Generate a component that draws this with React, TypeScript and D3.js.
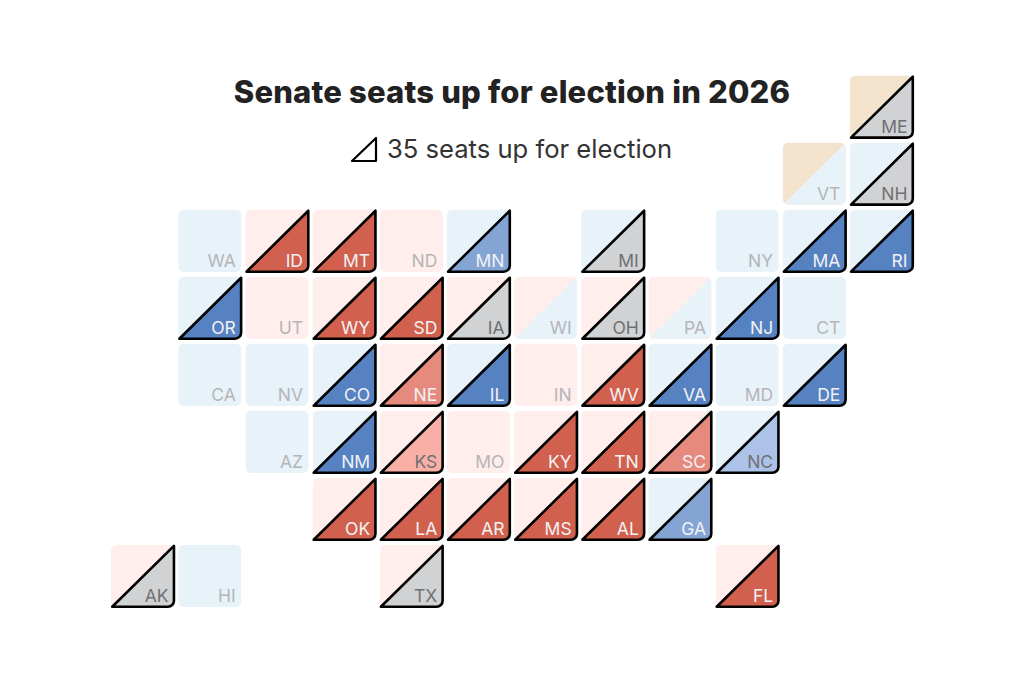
import * as d3 from "d3";

// tile map, one string per row, ".." = empty tile
const tileRows = [
  ".. .. .. .. .. .. .. .. .. .. .. ME",
  ".. .. .. .. .. .. .. .. .. .. VT NH",
  ".. WA ID MT ND MN .. MI .. NY MA RI",
  ".. OR UT WY SD IA WI OH PA NJ CT ..",
  ".. CA NV CO NE IL IN WV VA MD DE ..",
  ".. .. AZ NM KS MO KY TN SC NC .. ..",
  ".. .. .. OK LA AR MS AL GA .. .. ..",
  "AK HI .. .. TX .. .. .. .. FL .. ..",
];

// party of the seat not up (upper left triangle)
const demUpper = ["WA","MN","MI","NY","MA","RI","OR","NJ","CT","CA","NV","CO","IL","VA","MD","DE","AZ","NM","NC","GA","HI","NH"];
const indUpper = ["ME","VT"];
// everything else is rep

// lower right triangle when no race in 2026
const demLower = ["WA","NY","CT","CA","NV","MD","AZ","HI","VT","WI","PA"];
const repLower = ["UT","ND","IN","MO"];

// race ratings (lower right triangle, outlined)
const solidD = ["MA","RI","OR","NJ","CO","IL","VA","DE","NM"];
const leanD = ["MN","GA"];
const likelyD = ["NC"];
const tossup = ["ME","NH","MI","IA","OH","AK","TX"];
const likelyR = ["KS"];
const leanR = ["NE","SC"];
const solidR = ["ID","MT","WY","SD","WV","KY","TN","OK","LA","AR","MS","AL","FL"];

const title = "Senate seats up for election in 2026";
const subtitle = "35 seats up for election";

const ratings: [string, string[]][] = [
  ["solidD", solidD], ["leanD", leanD], ["likelyD", likelyD], ["tossup", tossup],
  ["likelyR", likelyR], ["leanR", leanR], ["solidR", solidR],
];
const ratingOf = (st: string) => ratings.find((r) => r[1].includes(st))?.[0];
const upperOf = (st: string) => demUpper.includes(st) ? "dem" : indUpper.includes(st) ? "ind" : "rep";
const lowerOf = (st: string) => ratingOf(st) ?? (demLower.includes(st) ? "dem" : "rep");

const color = d3.scaleOrdinal<string, string>()
  .domain(["dem","rep","ind","solidD","leanD","likelyD","tossup","likelyR","leanR","solidR"])
  .range(["#e8f2f9","#ffeeeb","#f3e2cc","#5682c2","#84a4d4","#adc2e8","#d1d2d4","#f8b0a6","#e58a7d","#d2604f"]);

const labelColor = (st: string) => {
  const r = ratingOf(st);
  if (!r) return "#b4b5b9";
  if (r === "tossup" || r === "likelyR" || r === "likelyD") return "#6f7073";
  return "#f2f2f4";
};

const x = d3.scaleBand<number>().domain(d3.range(12)).range([109, 915]).paddingInner(0.06).paddingOuter(0.03);
const y = d3.scaleBand<number>().domain(d3.range(8)).range([73.5, 609]).paddingInner(0.07).paddingOuter(0.03);

const RADIUS = 6;

// triangle with the corner on the lower right, rounded there, tips pulled in a bit
const lowerPath = (s: number, h: number) => {
  const p = d3.path();
  p.moveTo(1.2, h - 0.2);
  p.lineTo(s - 0.2, 1.2);
  p.lineTo(s - 0.2, h - RADIUS);
  p.arcTo(s - 0.2, h - 0.2, s - RADIUS, h - 0.2, RADIUS);
  p.closePath();
  return p.toString();
};

const tiles = tileRows.flatMap((row, r) =>
  row.split(" ").map((st, c) => ({ st, r, c })).filter((d) => d.st !== "..")
);

export default function App() {
  const s = x.bandwidth();
  const h = y.bandwidth();
  const font = "Inter, 'Noto Sans', sans-serif";
  return (
    <svg width={1024} height={683} style={{ position: "absolute", left: 0, top: 0, background: "#fff" }}>
      <defs>
        <clipPath id="tile">
          <rect width={s} height={h} rx={RADIUS} />
        </clipPath>
      </defs>
      {tiles.map((d) => {
        const rating = ratingOf(d.st);
        return (
          <g key={d.st} transform={`translate(${x(d.c)},${y(d.r)})`}>
            <g clipPath="url(#tile)">
              <rect width={s} height={h} fill={color(upperOf(d.st))} />
              <path d={`M0,${h}L${s},0L${s},${h}Z`} fill={color(lowerOf(d.st))} />
            </g>
            {rating && (
              <path d={lowerPath(s, h)} fill={color(rating)} stroke="#000" strokeWidth={2.6} strokeLinejoin="round" />
            )}
            <text x={s - 5.5} y={h - 4.5} textAnchor="end" fontFamily={font} fontSize={17.5} fill={labelColor(d.st)}>
              {d.st}
            </text>
          </g>
        );
      })}
      <text x={512} y={103} textAnchor="middle" fontFamily={font} fontWeight={800} fontSize={31} letterSpacing={0.18} fill="#222">
        {title}
      </text>
      <path d="M352,161L376,138L376,161Z" fill="none" stroke="#000" strokeWidth={2.2} strokeLinejoin="round" />
      <text x={387} y={158} fontFamily={font} fontSize={25.6} fill="#333">
        {subtitle}
      </text>
    </svg>
  );
}
